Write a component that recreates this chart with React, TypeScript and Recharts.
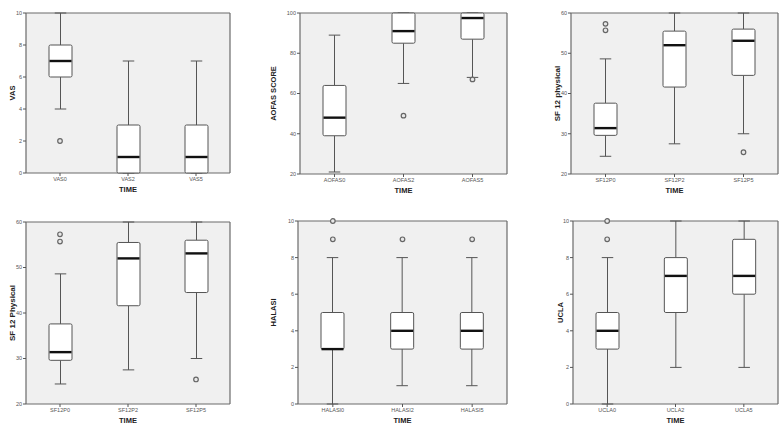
import React from "react";
import { ComposedChart, Bar, Scatter, XAxis, YAxis, CartesianGrid } from "recharts";

// VAS
const vasCats = ["VAS0", "VAS2", "VAS5"];
const vasMin = [4, 0, 0];
const vasQ1 = [6, 0, 0];
const vasMed = [7, 1, 1];
const vasQ3 = [8, 3, 3];
const vasMax = [10, 7, 7];
const vasOut = [[2], [], []];
const vasTicks = [0, 2, 4, 6, 8, 10];

// AOFAS
const aofasCats = ["AOFAS0", "AOFAS2", "AOFAS5"];
const aofasMin = [21, 65, 68];
const aofasQ1 = [39, 85, 87];
const aofasMed = [48, 91, 97.5];
const aofasQ3 = [64, 100, 100];
const aofasMax = [89, 100, 100];
const aofasOut = [[], [49], [67]];
const aofasTicks = [20, 40, 60, 80, 100];

// SF 12 physical
const sfCats = ["SF12P0", "SF12P2", "SF12P5"];
const sfMin = [24.4, 27.5, 30];
const sfQ1 = [29.6, 41.6, 44.5];
const sfMed = [31.4, 52, 53.1];
const sfQ3 = [37.6, 55.5, 56];
const sfMax = [48.6, 60, 60];
const sfOut = [[55.7, 57.3], [], [25.4]];
const sfTicks = [20, 30, 40, 50, 60];

// HALASI
const halasiCats = ["HALASI0", "HALASI2", "HALASI5"];
const halasiMin = [0, 1, 1];
const halasiQ1 = [3, 3, 3];
const halasiMed = [3, 4, 4];
const halasiQ3 = [5, 5, 5];
const halasiMax = [8, 8, 8];
const halasiOut = [[9, 10], [9], [9]];

// UCLA
const uclaCats = ["UCLA0", "UCLA2", "UCLA5"];
const uclaMin = [0, 2, 2];
const uclaQ1 = [3, 5, 6];
const uclaMed = [4, 7, 7];
const uclaQ3 = [5, 8, 9];
const uclaMax = [8, 10, 10];
const uclaOut = [[9, 10], [], []];
const tenTicks = [0, 2, 4, 6, 8, 10];

const FONT = "Liberation Sans, Arial, sans-serif";
const LINE = "#555";

function BoxShape(props: any) {
  const { x, y, width, height, payload } = props;
  if (!payload) return <g />;
  const top = Math.min(y, y + height);
  const bottom = Math.max(y, y + height);
  const span = payload.max - payload.min;
  const toY = (v: number) => bottom - ((v - payload.min) / span) * (bottom - top);
  const cx = x + width / 2;
  const cap = width / 4;
  const yq1 = toY(payload.q1);
  const yq3 = toY(payload.q3);
  const ymed = toY(payload.med);
  return (
    <g>
      <line x1={cx} x2={cx} y1={top} y2={yq3} stroke={LINE} strokeWidth={1} />
      <line x1={cx} x2={cx} y1={yq1} y2={bottom} stroke={LINE} strokeWidth={1} />
      <line x1={cx - cap} x2={cx + cap} y1={top} y2={top} stroke={LINE} strokeWidth={1} />
      <line x1={cx - cap} x2={cx + cap} y1={bottom} y2={bottom} stroke={LINE} strokeWidth={1} />
      <rect x={x} y={yq3} width={width} height={yq1 - yq3} fill="#fff" stroke={LINE} strokeWidth={1} rx={1.5} />
      <line x1={x + 0.5} x2={x + width - 0.5} y1={ymed} y2={ymed} stroke="#111" strokeWidth={2.4} />
    </g>
  );
}

function OutlierShape(props: any) {
  const { cx, cy } = props;
  if (cx == null || cy == null || Number.isNaN(cy)) return <g />;
  return <circle cx={cx} cy={cy} r={2.3} fill="#e8e8e8" stroke="#666" strokeWidth={1.2} />;
}

type PanelProps = {
  cats: string[];
  mins: number[];
  q1s: number[];
  meds: number[];
  q3s: number[];
  maxs: number[];
  outliers: number[][];
  domain: [number, number];
  ticks: number[];
  yLabel: string;
  yLabelSize: number;
  labelGap: number;
  frame: [number, number, number, number];
};

const YW = 32;
const XH = 26;
const MT = 4;
const MR = 4;

function BoxPanel(p: PanelProps) {
  const rows = p.cats.map((name, i) => ({
    name,
    min: p.mins[i],
    q1: p.q1s[i],
    med: p.meds[i],
    q3: p.q3s[i],
    max: p.maxs[i],
    o1: p.outliers[i][0] ?? null,
    o2: p.outliers[i][1] ?? null,
  }));
  const [x0, y0, x1, y1] = p.frame;
  const width = x1 - x0 + YW + MR;
  const height = y1 - y0 + MT + XH;

  return (
    <div style={{ position: "absolute", left: x0 - YW, top: y0 - MT }}>
      <ComposedChart width={width} height={height} data={rows} margin={{ top: MT, right: MR, bottom: 0, left: 0 }}>
        <CartesianGrid
          fill="#f0f0f0"
          fillOpacity={1}
          stroke="#6a6a6a"
          strokeWidth={1.2}
          horizontalCoordinatesGenerator={({ offset }: any) => [offset.top, offset.top + offset.height]}
          verticalCoordinatesGenerator={({ offset }: any) => [offset.left, offset.left + offset.width]}
        />
        <XAxis
          dataKey="name"
          height={XH}
          axisLine={false}
          tickLine={{ stroke: LINE }}
          tickSize={3}
          tickMargin={1}
          interval={0}
          tick={{ fontSize: 5.5, fill: "#555", fontFamily: FONT }}
          label={{
            content: ({ viewBox }: any) => (
              <text
                x={viewBox.x + viewBox.width / 2}
                y={viewBox.y + 16}
                textAnchor="middle"
                dominantBaseline="central"
                fontSize={7.5}
                fontWeight="bold"
                fontFamily={FONT}
                fill="#222"
              >
                TIME
              </text>
            ),
          }}
        />
        <YAxis
          width={YW}
          domain={p.domain}
          ticks={p.ticks}
          axisLine={false}
          tickLine={{ stroke: LINE }}
          tickSize={3}
          tickMargin={1}
          interval={0}
          tick={{ fontSize: 5.5, fill: "#555", fontFamily: FONT }}
          label={{
            content: ({ viewBox }: any) => {
              const lx = viewBox.x + viewBox.width - p.labelGap;
              const ly = viewBox.y + viewBox.height / 2;
              return (
                <text
                  x={lx}
                  y={ly}
                  transform={`rotate(-90 ${lx} ${ly})`}
                  textAnchor="middle"
                  dominantBaseline="central"
                  fontSize={p.yLabelSize}
                  fontWeight="bold"
                  fontFamily={FONT}
                  fill="#222"
                >
                  {p.yLabel}
                </text>
              );
            },
          }}
        />
        <Bar dataKey={(d: any) => [d.min, d.max]} barSize={23} shape={BoxShape} isAnimationActive={false} />
        <Scatter dataKey="o1" shape={OutlierShape} isAnimationActive={false} />
        <Scatter dataKey="o2" shape={OutlierShape} isAnimationActive={false} />
      </ComposedChart>
    </div>
  );
}

export default function App() {
  return (
    <div style={{ position: "absolute", left: 0, top: 0, width: 782, height: 432, background: "#fff", overflow: "hidden" }}>
      <BoxPanel
        cats={vasCats} mins={vasMin} q1s={vasQ1} meds={vasMed} q3s={vasQ3} maxs={vasMax} outliers={vasOut}
        domain={[0, 10]} ticks={vasTicks} yLabel="VAS" yLabelSize={7.5} labelGap={14} frame={[26, 13, 230, 173]}
      />
      <BoxPanel
        cats={aofasCats} mins={aofasMin} q1s={aofasQ1} meds={aofasMed} q3s={aofasQ3} maxs={aofasMax} outliers={aofasOut}
        domain={[20, 100]} ticks={aofasTicks} yLabel="AOFAS SCORE" yLabelSize={7.5} labelGap={27} frame={[300, 13, 507, 174]}
      />
      <BoxPanel
        cats={sfCats} mins={sfMin} q1s={sfQ1} meds={sfMed} q3s={sfQ3} maxs={sfMax} outliers={sfOut}
        domain={[20, 60]} ticks={sfTicks} yLabel="SF 12 physical" yLabelSize={8} labelGap={14} frame={[571, 13, 778, 174]}
      />
      <BoxPanel
        cats={sfCats} mins={sfMin} q1s={sfQ1} meds={sfMed} q3s={sfQ3} maxs={sfMax} outliers={sfOut}
        domain={[20, 60]} ticks={sfTicks} yLabel="SF 12 Physical" yLabelSize={8} labelGap={14} frame={[26, 222, 230, 404]}
      />
      <BoxPanel
        cats={halasiCats} mins={halasiMin} q1s={halasiQ1} meds={halasiMed} q3s={halasiQ3} maxs={halasiMax} outliers={halasiOut}
        domain={[0, 10]} ticks={tenTicks} yLabel="HALASI" yLabelSize={7.5} labelGap={25} frame={[298, 221, 507, 404]}
      />
      <BoxPanel
        cats={uclaCats} mins={uclaMin} q1s={uclaQ1} meds={uclaMed} q3s={uclaQ3} maxs={uclaMax} outliers={uclaOut}
        domain={[0, 10]} ticks={tenTicks} yLabel="UCLA" yLabelSize={7.5} labelGap={13} frame={[573, 221, 778, 404]}
      />
    </div>
  );
}
